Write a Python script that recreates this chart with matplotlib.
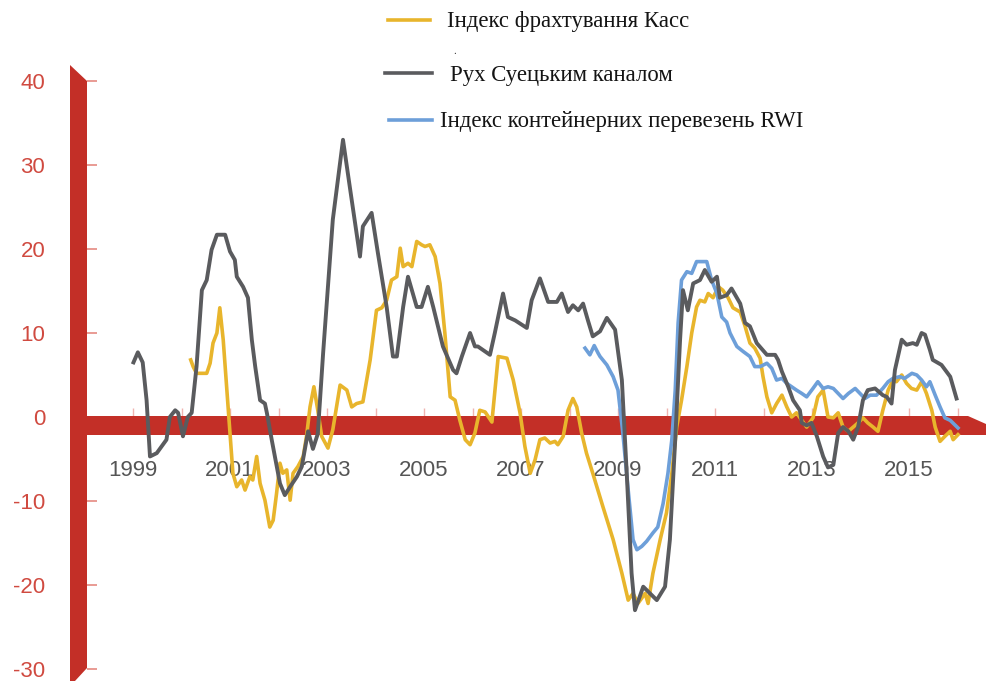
import matplotlib
matplotlib.use("Agg")
import matplotlib.pyplot as plt
from matplotlib.lines import Line2D

# ---------------- data ----------------
suez_t = [1999.01, 1999.10, 1999.20, 1999.28, 1999.35, 1999.49, 1999.59, 1999.69, 1999.76, 1999.87,
          1999.93, 2000.03, 2000.13, 2000.21, 2000.31, 2000.42, 2000.52, 2000.62, 2000.73, 2000.90,
          2001.00, 2001.10, 2001.14, 2001.27, 2001.37, 2001.45, 2001.52, 2001.62, 2001.72, 2001.76,
          2001.86, 2002.03, 2002.13, 2002.24, 2002.38, 2002.48, 2002.61, 2002.71, 2002.81, 2002.92,
          2003.12, 2003.33, 2003.47, 2003.68, 2003.74, 2003.92, 2004.05, 2004.23, 2004.36, 2004.44,
          2004.57, 2004.67, 2004.85, 2004.95, 2005.08, 2005.19, 2005.39, 2005.60, 2005.67, 2005.78,
          2005.95, 2006.05, 2006.11, 2006.36, 2006.46, 2006.63, 2006.73, 2006.88, 2007.12, 2007.22,
          2007.39, 2007.56, 2007.74, 2007.84, 2007.97, 2008.07, 2008.18, 2008.28, 2008.38, 2008.48,
          2008.63, 2008.77, 2008.94, 2009.08, 2009.18, 2009.28, 2009.35, 2009.52, 2009.66, 2009.80,
          2009.97, 2010.07, 2010.18, 2010.28, 2010.34, 2010.44, 2010.55, 2010.69, 2010.79, 2010.93,
          2011.04, 2011.10, 2011.24, 2011.34, 2011.52, 2011.62, 2011.72, 2011.86, 2012.07, 2012.24,
          2012.30, 2012.38, 2012.51, 2012.61, 2012.75, 2012.79, 2012.89, 2012.99, 2013.10, 2013.23,
          2013.33, 2013.44, 2013.54, 2013.64, 2013.75, 2013.85, 2013.95, 2014.05, 2014.15, 2014.30,
          2014.46, 2014.54, 2014.64, 2014.71, 2014.85, 2014.95, 2015.08, 2015.16, 2015.26, 2015.33,
          2015.43, 2015.49, 2015.67, 2015.85, 2015.98]
suez_v = [6.5, 7.7, 6.5, 2.0, -4.7, -4.3, -3.5, -2.7, 0.0, 0.8,
          0.5, -2.3, 0.0, 0.5, 6.0, 15.1, 16.3, 19.9, 21.7, 21.7,
          19.7, 18.7, 16.7, 15.5, 14.2, 9.2, 6.0, 2.0, 1.6, 0.5,
          -2.7, -7.9, -9.3, -8.3, -7.1, -5.9, -1.7, -3.8, -2.0, 7.6,
          23.5, 33.0, 27.4, 19.1, 22.7, 24.3, 19.5, 13.1, 7.2, 7.2,
          13.1, 16.7, 13.1, 13.1, 15.5, 13.1, 8.4, 5.6, 5.2, 7.2,
          10.0, 8.4, 8.4, 7.4, 10.0, 14.7, 11.9, 11.5, 10.6, 13.9,
          16.5, 13.7, 13.7, 14.7, 12.5, 13.3, 12.7, 13.5, 11.5, 9.6,
          10.2, 11.8, 10.4, 4.4, -6.7, -18.6, -23.0, -20.2, -21.0, -21.8,
          -20.2, -14.6, -2.7, 9.2, 15.1, 12.7, 15.9, 16.3, 17.5, 16.1,
          16.7, 14.2, 14.5, 15.3, 13.5, 11.2, 10.8, 8.8, 7.4, 7.4,
          6.8, 5.4, 3.6, 2.0, 0.8, -0.7, -1.0, -0.7, -2.3, -4.7,
          -6.0, -5.7, -1.9, -1.2, -1.7, -2.7, -1.2, 2.0, 3.2, 3.4,
          2.6, 2.4, 1.6, 5.6, 9.2, 8.6, 8.8, 8.6, 10.0, 9.8,
          8.0, 6.8, 6.2, 4.8, 2.2]

kass_t = [2000.19, 2000.24, 2000.31, 2000.52, 2000.59, 2000.65, 2000.73, 2000.79, 2000.86, 2000.93,
          2001.00, 2001.06, 2001.14, 2001.24, 2001.31, 2001.41, 2001.47, 2001.55, 2001.62, 2001.72,
          2001.82, 2001.89, 2001.96, 2002.03, 2002.09, 2002.17, 2002.24, 2002.30, 2002.40, 2002.51,
          2002.58, 2002.65, 2002.73, 2002.81, 2002.89, 2003.02, 2003.12, 2003.27, 2003.41, 2003.51,
          2003.61, 2003.74, 2003.89, 2004.02, 2004.13, 2004.23, 2004.33, 2004.44, 2004.51, 2004.57,
          2004.67, 2004.75, 2004.85, 2004.95, 2005.02, 2005.12, 2005.23, 2005.33, 2005.43, 2005.54,
          2005.64, 2005.74, 2005.85, 2005.95, 2006.05, 2006.15, 2006.26, 2006.40, 2006.53, 2006.71,
          2006.84, 2006.98, 2007.08, 2007.19, 2007.29, 2007.39, 2007.49, 2007.60, 2007.70, 2007.76,
          2007.87, 2007.97, 2008.07, 2008.15, 2008.25, 2008.35, 2008.48, 2008.69, 2008.90, 2009.08,
          2009.21, 2009.31, 2009.41, 2009.56, 2009.62, 2009.72, 2009.87, 2010.00, 2010.11, 2010.21,
          2010.31, 2010.42, 2010.52, 2010.62, 2010.69, 2010.79, 2010.86, 2010.96, 2011.07, 2011.16,
          2011.27, 2011.37, 2011.52, 2011.62, 2011.72, 2011.82, 2011.93, 2011.99, 2012.07, 2012.17,
          2012.27, 2012.38, 2012.48, 2012.58, 2012.68, 2012.79, 2012.89, 2013.02, 2013.12, 2013.23,
          2013.33, 2013.44, 2013.54, 2013.64, 2013.75, 2013.85, 2013.95, 2014.05, 2014.15, 2014.26,
          2014.36, 2014.46, 2014.57, 2014.67, 2014.74, 2014.85, 2014.95, 2015.05, 2015.16, 2015.26,
          2015.36, 2015.47, 2015.54, 2015.64, 2015.74, 2015.85, 2015.91, 2016.01]
kass_v = [6.8, 6.0, 5.2, 5.2, 6.4, 8.8, 10.0, 13.0, 9.2, 3.6,
          -1.9, -6.7, -8.3, -7.5, -8.7, -7.1, -7.5, -4.7, -7.9, -9.9,
          -13.1, -12.3, -9.1, -5.5, -6.7, -6.3, -9.9, -6.7, -5.9, -4.7,
          -2.2, 1.2, 3.6, 0.8, -2.3, -3.7, -1.5, 3.8, 3.2, 1.2,
          1.6, 1.8, 6.8, 12.7, 13.0, 13.9, 16.3, 16.7, 20.1, 17.9,
          18.3, 17.9, 20.9, 20.5, 20.3, 20.5, 19.1, 15.9, 10.0, 2.4,
          2.0, -0.4, -2.7, -3.3, -1.9, 0.8, 0.6, -0.6, 7.2, 7.0,
          4.4, 0.5, -3.5, -6.7, -5.1, -2.7, -2.5, -3.1, -2.9, -3.3,
          -2.3, 0.8, 2.2, 1.2, -1.9, -4.3, -6.7, -10.7, -14.6, -18.6,
          -21.8, -21.0, -22.2, -21.0, -22.2, -18.6, -14.6, -11.4, -6.7, -1.2,
          2.0, 6.0, 10.0, 13.1, 13.9, 13.7, 14.7, 14.2, 15.5, 15.1,
          14.2, 13.0, 12.5, 10.8, 8.8, 8.2, 7.0, 4.8, 2.4, 0.5,
          1.6, 2.6, 1.2, 0.0, 0.5, -0.4, -1.2, -0.1, 2.4, 3.2,
          0.0, -0.1, 0.5, -1.2, -1.7, -1.2, -0.7, -0.1, -0.7, -1.2,
          -1.7, 0.8, 3.2, 4.4, 4.2, 5.0, 4.0, 3.4, 3.2, 4.2,
          2.8, 0.8, -1.2, -2.9, -2.3, -1.7, -2.7, -2.1]

rwi_t = [2008.32, 2008.42, 2008.51, 2008.59, 2008.63, 2008.77, 2008.90, 2009.00, 2009.10, 2009.21,
         2009.31, 2009.39, 2009.49, 2009.59, 2009.72, 2009.82, 2009.93, 2010.03, 2010.11, 2010.18,
         2010.24, 2010.31, 2010.42, 2010.52, 2010.62, 2010.83, 2010.93, 2011.04, 2011.14, 2011.24,
         2011.31, 2011.45, 2011.58, 2011.72, 2011.82, 2011.93, 2012.07, 2012.17, 2012.27, 2012.38,
         2012.48, 2012.58, 2012.68, 2012.79, 2012.89, 2013.02, 2013.12, 2013.23, 2013.33, 2013.44,
         2013.54, 2013.64, 2013.75, 2013.89, 2013.99, 2014.09, 2014.20, 2014.33, 2014.46, 2014.57,
         2014.67, 2014.81, 2014.91, 2015.06, 2015.16, 2015.26, 2015.36, 2015.43, 2015.54, 2015.64,
         2015.74, 2015.85, 2016.01]
rwi_v = [8.2, 7.4, 8.5, 7.6, 7.2, 6.2, 4.8, 3.2, -1.9, -8.7,
         -14.6, -15.8, -15.4, -14.8, -13.8, -13.1, -10.3, -6.7, -2.7, 3.2,
         11.2, 16.3, 17.3, 17.1, 18.5, 18.5, 16.3, 14.7, 11.9, 11.3,
         10.0, 8.4, 7.8, 7.2, 6.0, 6.0, 6.4, 5.8, 4.4, 4.6,
         4.0, 3.6, 3.2, 2.8, 2.4, 3.4, 4.2, 3.4, 3.6, 3.4,
         2.8, 2.2, 2.8, 3.4, 2.8, 2.2, 2.6, 2.6, 3.4, 4.2,
         4.6, 4.8, 4.6, 5.2, 5.0, 4.4, 3.6, 4.2, 2.6, 1.2,
         -0.1, -0.4, -1.3]

year_ticks = list(range(1999, 2017))
year_labels = ["1999", "", "2001", "", "2003", "", "2005", "", "2007", "",
               "2009", "", "2011", "", "2013", "", "2015", ""]
y_ticks = [-30, -20, -10, 0, 10, 20, 30, 40]
y_labels = ["-30", "-20", "-10", "0", "10", "20", "30", "40"]

label_kass = "Індекс фрахтування Касс"
label_suez = "Рух Суецьким каналом"
label_rwi = "Індекс контейнерних перевезень RWI"

# ---------------- styling ----------------
RED = "#c32f27"
RED_TXT = "#d04a40"
TICK_RED = "#e58a82"
YELLOW = "#e8b52c"
GRAY = "#5a5b5e"
BLUE = "#6d9fd9"
LW = 2.6

W, H = 987, 681
fig = plt.figure(figsize=(W / 100, H / 100), dpi=100)
ax = fig.add_axes([0, 0, 1, 1])

# pixel scale: 1999 at x=133 px, 48.5 px / year ; 0 at y=417 px, 8.4 px / unit
PX_YEAR, X0PX, X0 = 48.5, 133.0, 1999.0
PX_UNIT, Y0PX = 8.4, 417.0
def xd(px):
    return X0 + (px - X0PX) / PX_YEAR
def yd(py):
    return (Y0PX - py) / PX_UNIT

ax.set_xlim(xd(0), xd(W))
ax.set_ylim(yd(H), yd(0))
ax.patch.set_alpha(0)

# decorative axis bars
ax.fill([xd(70), xd(87), xd(87), xd(75), xd(70)],
        [yd(65), yd(81), yd(668), yd(681), yd(681)], color=RED, lw=0, zorder=2)
ax.fill([xd(70), xd(968), xd(986), xd(986), xd(70)],
        [yd(416), yd(416), yd(424), yd(435), yd(435)], color=RED, lw=0, zorder=2)

# spines / ticks
for s in ["top", "right"]:
    ax.spines[s].set_visible(False)
ax.spines["left"].set_position(("data", xd(87)))
ax.spines["left"].set_visible(False)
ax.spines["bottom"].set_position(("data", yd(416)))
ax.spines["bottom"].set_visible(False)

ax.set_yticks(y_ticks)
ax.set_yticklabels(y_labels)
ax.tick_params(axis="y", direction="in", length=7.5, width=1.2, color=TICK_RED,
               pad=30, labelcolor=RED_TXT, labelsize=16)
ax.set_xticks(year_ticks)
ax.set_xticklabels(year_labels)
ax.tick_params(axis="x", direction="in", length=6, width=1.0, color="#f0b4b0",
               pad=32, labelcolor="#555555", labelsize=16)
for lab in ax.get_xticklabels() + ax.get_yticklabels():
    lab.set_fontfamily("Liberation Sans")

# series
lk, = ax.plot(kass_t, kass_v, color=YELLOW, lw=LW, zorder=4, solid_joinstyle="round")
ls, = ax.plot(suez_t, suez_v, color=GRAY, lw=LW + 0.2, zorder=5, solid_joinstyle="round")
lr, = ax.plot(rwi_t, rwi_v, color=BLUE, lw=LW, zorder=4, solid_joinstyle="round")

# legend (three separate single-entry legends)
font = dict(family="Liberation Serif", size=16.4)
def add_leg(handle, label, x_px, y_px, hl_px, pad_px):
    fs_px = font["size"] * 100 / 72
    leg = fig.legend([Line2D([], [], color=handle.get_color(), lw=2.6)], [label],
                     loc="center left", bbox_to_anchor=(x_px / W, 1 - y_px / H),
                     frameon=False, borderpad=0, borderaxespad=0,
                     handlelength=hl_px / fs_px, handletextpad=pad_px / fs_px,
                     prop=font)
    for t in leg.get_texts():
        t.set_color("#141414")
    return leg

add_leg(lk, label_kass, 388, 22, 42, 17)
add_leg(ls, label_suez, 385, 75, 47, 18)
add_leg(lr, label_rwi, 389, 122, 43, 8)
fig.text(455 / W, 1 - 52 / H, ".", fontsize=8, color="#333333",
         ha="center", va="center", family="Liberation Serif")

fig.savefig("out.png", dpi=100)
